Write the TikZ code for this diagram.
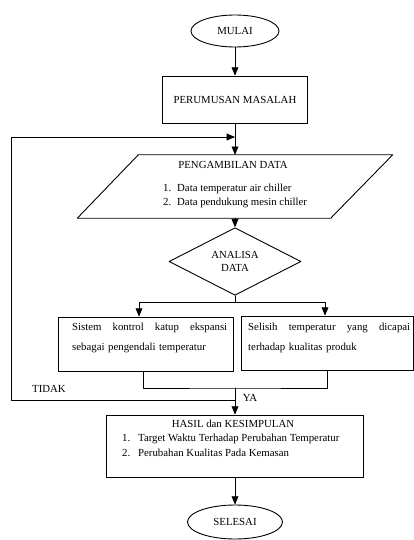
\documentclass[tikz,border=0pt]{standalone}
\usepackage{fontspec}
\setmainfont{Liberation Serif}
\usepackage{tikz}
\tikzset{>=latex}
\usetikzlibrary{shapes,arrows}
\usetikzlibrary{calc}

\begin{document}
\begin{tikzpicture}[line cap=round,line join=round,>=triangle 45,x=1pt,y=-1pt,
	every node/.style={font=\fontsize{10.8}{13}\selectfont},
	garis/.style={line width=0.9pt},
	ujung/.style={ellipse,draw,line width=0.9pt,inner sep=0pt},
	kotak/.style={rectangle,draw,line width=0.9pt,inner sep=0pt},
	masukan/.style={rectangle,inner sep=0pt},
	putusan/.style={diamond,draw,line width=0.9pt,inner sep=0pt,align=center},
	teks/.style={inner sep=0pt},
	isi/.style={inner sep=0pt,anchor=north west,align=left,font=\fontsize{10.8}{20}\selectfont}]
	\useasboundingbox (0,0) rectangle (414,540);
	% shapes
	\node[ujung,minimum width=88pt,minimum height=32pt] (mulai) at (235,31) {MULAI};
	\node[kotak,minimum width=145pt,minimum height=47pt] (rumusan) at (235,99.5) {PERUMUSAN MASALAH};
	\node[masukan,minimum width=315pt,minimum height=63pt] (ambil) at (235,186.5) {};
	\draw[garis] (ambil.south west) -- ([xshift=61pt]ambil.north west) -- (ambil.north east)
		-- ([xshift=-62pt]ambil.south east) -- cycle;
	\node[teks] (ambil-judul) at (233,165) {PENGAMBILAN DATA};
	\node[teks,anchor=west] (ambil-1) at (163,189) {\makebox[14pt][l]{1.}Data temperatur air chiller};
	\node[teks,anchor=west] (ambil-2) at (163,203) {\makebox[14pt][l]{2.}Data pendukung mesin chiller};
	\node[putusan,minimum width=132pt,minimum height=53pt] (analisa) at (235,261.5) {ANALISA\\DATA};
	\node[kotak,minimum width=175pt,minimum height=54pt] (kiri) at (145.5,344) {};
	\node[isi,text width=155pt] (kiri-isi) at (72,323) {Sistem\hfill kontrol\hfill katup\hfill ekspansi\\sebagai pengendali temperatur};
	\node[kotak,minimum width=172pt,minimum height=54pt] (kanan) at (327,343) {};
	\node[isi,text width=162pt] (kanan-isi) at (248,323) {Selisih\hfill temperatur\hfill yang\hfill dicapai\\terhadap kualitas produk};
	\node[kotak,minimum width=257pt,minimum height=62pt] (hasil) at (235,446) {};
	\node[teks] (hasil-judul) at (233,424) {HASIL dan KESIMPULAN};
	\node[teks,anchor=west] (hasil-1) at (122,439) {\makebox[16pt][l]{1.}Target Waktu Terhadap Perubahan Temperatur};
	\node[teks,anchor=west] (hasil-2) at (122,453) {\makebox[16pt][l]{2.}Perubahan Kualitas Pada Kemasan};
	\node[ujung,minimum width=95pt,minimum height=34pt] (selesai) at (235,522) {SELESAI};
	% junctions
	\coordinate (balik) at (235,137);
	\coordinate (cabang) at (235,302);
	\coordinate (gabung) at (235,388);
	\coordinate (tolak) at (235,400);
	% connectors
	\draw[garis,->] (mulai) -- (rumusan);
	\draw[garis,->] (rumusan) -- (ambil);
	\draw[garis,->] (tolak) -- ++(-224,0) |- (balik);
	\draw[garis,->] (ambil) -- (analisa);
	\draw[garis] (analisa) -- (cabang);
	\draw[garis,->] (cabang) -| ([xshift=-6.5pt]kiri.north);
	\draw[garis,->] (cabang) -| ([xshift=-2pt]kanan.north);
	\draw[garis] ([xshift=-2.5pt]kiri.south) |- (gabung) -| (kanan.south);
	\draw[garis,->] (gabung) -- (hasil);
	\draw[garis,->] (hasil) -- (selesai);
	\node[teks] (tidak) at (49,389) {TIDAK};
	\node[teks] (ya) at (250,398) {YA};
\end{tikzpicture}
\end{document}
